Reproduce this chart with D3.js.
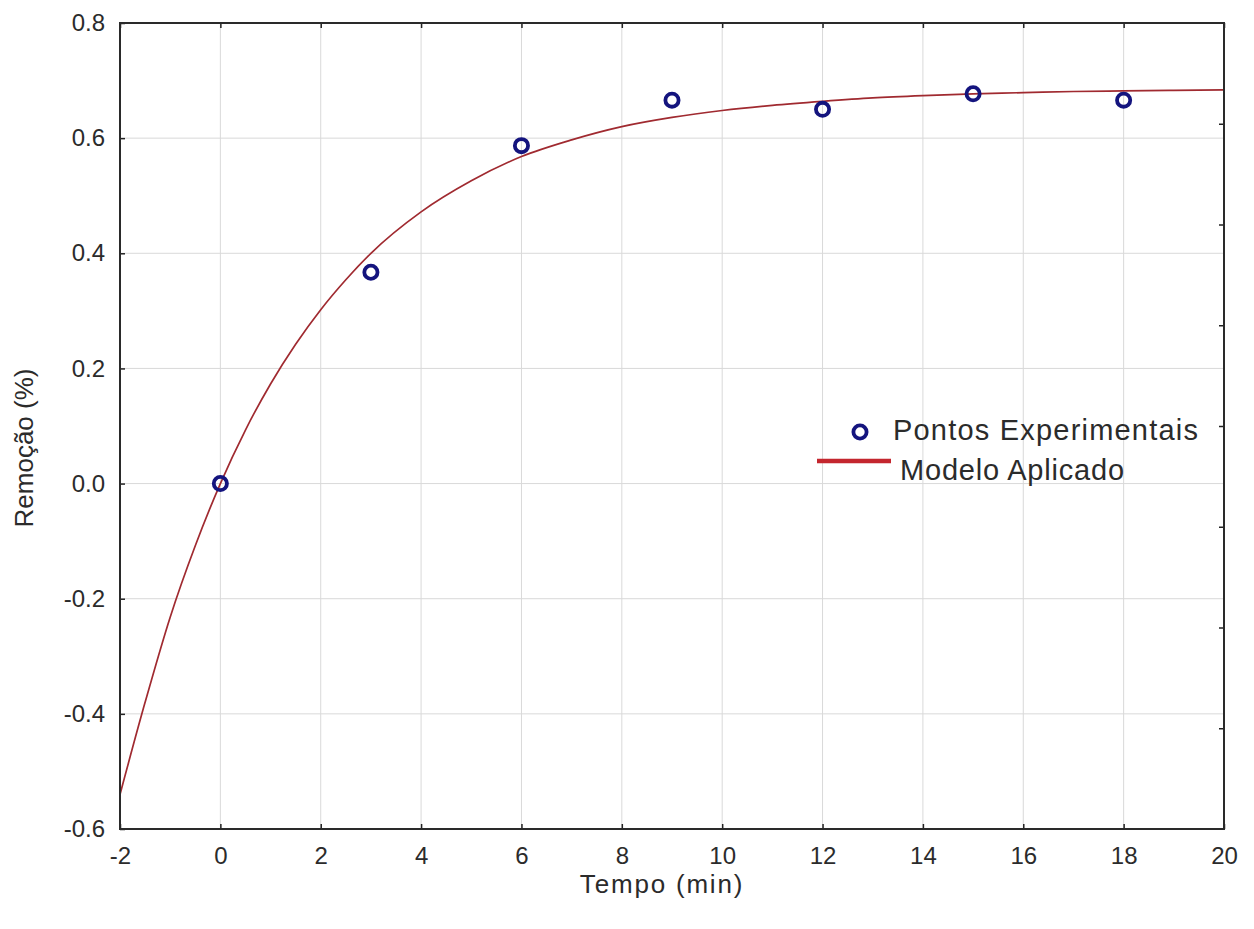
<!DOCTYPE html>
<html>
<head>
<meta charset="utf-8">
<script src="https://cdn.jsdelivr.net/npm/d3@7"></script>
<style>
  body { margin: 0; background: #fff; }
  svg { display: block; font-family: "Liberation Sans", Arial, sans-serif; }
</style>
</head>
<body>
<script>
// pontos experimentais
const tempo = [0, 3, 6, 9, 12, 15, 18]
const remocao = [0.000, 0.367, 0.587, 0.666, 0.650, 0.677, 0.666]

// modelo aplicado
const tempoModelo = [-2, -1.5, -1, -0.5, 0, 0.5, 1, 1.5, 2, 2.5, 3, 4, 5, 6, 7, 8, 9, 10, 11, 12, 13, 14, 15, 16, 17, 18, 19, 20]
const remocaoModelo = [-0.540, -0.380, -0.232, -0.108, 0.000, 0.093, 0.173, 0.242, 0.302, 0.354, 0.400, 0.472, 0.526, 0.568, 0.597, 0.620, 0.636, 0.648, 0.657, 0.664, 0.670, 0.674, 0.677, 0.679, 0.681, 0.682, 0.683, 0.684]

const xTicks = [-2, 0, 2, 4, 6, 8, 10, 12, 14, 16, 18, 20]
const yTicks = [-0.6, -0.4, -0.2, 0.0, 0.2, 0.4, 0.6, 0.8]
const rightTicks = [1, 2, 3, 4, 5, 6, 7] // marcas do eixo direito (sem rotulo)

const legendLabels = ['Pontos Experimentais', 'Modelo Aplicado']

const WIDTH = 1254
const HEIGHT = 929
const LEFT = 120
const RIGHT = 1224
const TOP = 23
const BOTTOM = 829

const fmt = d3.formatLocale({ decimal: '.', thousands: ',', grouping: [3], currency: ['', ''], minus: '-' })

const svg = d3.select('body').append('svg').attr('width', WIDTH).attr('height', HEIGHT)

const xScale = d3.scaleLinear().domain([-2, 20]).range([LEFT, RIGHT])
const yScale = d3.scaleLinear().domain([-0.6, 0.8]).range([BOTTOM, TOP])
const yRight = d3.scaleLinear().domain([0, 8]).range([BOTTOM, TOP])

// grade
const grid = svg.append('g').attr('stroke', '#d9d9d9').attr('stroke-width', 1)
grid.selectAll('.gx').data(xTicks.slice(1, -1)).enter().append('line')
    .attr('x1', d => xScale(d)).attr('x2', d => xScale(d))
    .attr('y1', TOP).attr('y2', BOTTOM)
grid.selectAll('.gy').data(yTicks.slice(1, -1)).enter().append('line')
    .attr('x1', LEFT).attr('x2', RIGHT)
    .attr('y1', d => yScale(d)).attr('y2', d => yScale(d))

// curva do modelo
const line = d3.line()
    .x((d, i) => xScale(tempoModelo[i]))
    .y(d => yScale(d))
    .curve(d3.curveMonotoneX)
svg.append('path')
    .datum(remocaoModelo)
    .attr('d', line)
    .attr('fill', 'none')
    .attr('stroke', '#a02a30')
    .attr('stroke-width', 1.7)

// pontos
svg.append('g').selectAll('circle')
    .data(remocao)
    .enter()
    .append('circle')
    .attr('cx', (d, i) => xScale(tempo[i]))
    .attr('cy', d => yScale(d))
    .attr('r', 6.6)
    .attr('fill', 'none')
    .attr('stroke', '#14147e')
    .attr('stroke-width', 3.8)

// eixos
const axisX = d3.axisBottom(xScale).tickValues(xTicks).tickSize(-5).tickPadding(18)
    .tickFormat(fmt.format('d'))
const gx = svg.append('g').attr('transform', `translate(0, ${BOTTOM})`).call(axisX)

const axisY = d3.axisLeft(yScale).tickValues(yTicks).tickSize(-5).tickPadding(15)
    .tickFormat(fmt.format('.1f'))
const gy = svg.append('g').attr('transform', `translate(${LEFT}, 0)`).call(axisY)

const axisTop = d3.axisTop(xScale).tickValues(xTicks).tickSize(-5).tickFormat('')
const gt = svg.append('g').attr('transform', `translate(0, ${TOP})`).call(axisTop)

const axisR = d3.axisRight(yRight).tickValues(rightTicks).tickSize(-5).tickFormat('')
const gr = svg.append('g').attr('transform', `translate(${RIGHT}, 0)`).call(axisR)

for (const g of [gx, gy, gt, gr]) {
    g.select('.domain').remove()
    g.selectAll('.tick line').attr('stroke', '#222').attr('stroke-width', 1.5)
    g.selectAll('.tick text')
        .attr('font-family', '"Liberation Sans", Arial, sans-serif')
        .attr('font-size', 24)
        .attr('fill', '#2b2b2b')
}

// moldura
svg.append('rect')
    .attr('x', LEFT).attr('y', TOP)
    .attr('width', RIGHT - LEFT).attr('height', BOTTOM - TOP)
    .attr('fill', 'none')
    .attr('stroke', '#2a2a2a')
    .attr('stroke-width', 2)

// titulos
svg.append('text')
    .attr('x', 662)
    .attr('y', 893)
    .attr('text-anchor', 'middle')
    .attr('font-size', 26)
    .attr('letter-spacing', 1.8)
    .attr('fill', '#2b2b2b')
    .text('Tempo (min)')

svg.append('text')
    .attr('transform', 'translate(33, 448) rotate(-90)')
    .attr('text-anchor', 'middle')
    .attr('font-size', 26)
    .attr('fill', '#2b2b2b')
    .text('Remoção (%)')

// legenda
const legend = svg.append('g')
legend.append('circle')
    .attr('cx', 860).attr('cy', 432).attr('r', 6.6)
    .attr('fill', 'none').attr('stroke', '#14147e').attr('stroke-width', 3.8)
legend.append('text')
    .attr('x', 893).attr('y', 440)
    .attr('font-size', 29).attr('letter-spacing', 1.2)
    .attr('fill', '#2b2b2b')
    .text(legendLabels[0])
legend.append('line')
    .attr('x1', 817).attr('x2', 891).attr('y1', 461).attr('y2', 461)
    .attr('stroke', '#c4262e').attr('stroke-width', 4.5)
legend.append('text')
    .attr('x', 900).attr('y', 480)
    .attr('font-size', 29).attr('letter-spacing', 0.8)
    .attr('fill', '#2b2b2b')
    .text(legendLabels[1])
</script>
</body>
</html>
